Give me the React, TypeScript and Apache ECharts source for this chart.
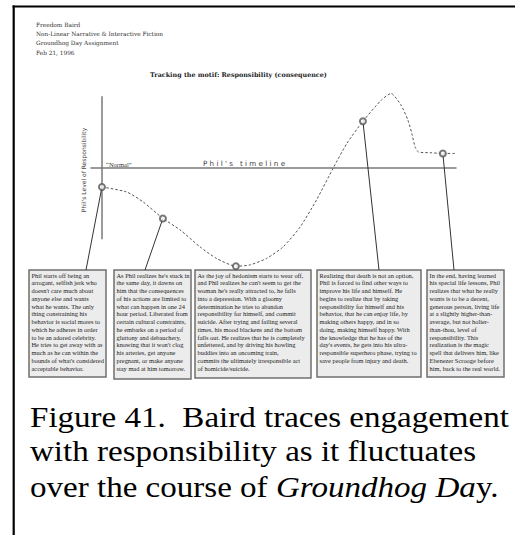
import React, { useEffect, useRef } from "react";
import * as echarts from "echarts";

// ---- texts ----
const headerLines = [
  "Freedom Baird",
  "Non-Linear Narrative & Interactive Fiction",
  "Groundhog Day Assignment",
  "Feb 21, 1996",
];
const chartTitle = "Tracking the motif: Responsibility (consequence)";
const yAxisTitle = "Phil's Level of Responsibility";
const timelineLabel = "P h i l ' s   t i m e l i n e";
const normalLabel = "\u201CNormal\u201D";

// ---- data: story time (x) vs. level of responsibility (y, 0 = "Normal") ----
const curveX = [0, 6.8, 11.3, 16.7, 21.4, 26.9, 31.4, 36.7, 40.6, 45.1, 49.6, 54.3, 58.8, 63.3, 67.1, 71.5, 76.6, 79.2, 81.9, 83.8, 84.9, 85.8, 86.7, 89.9, 93.4, 97];
const curveY = [-2.7, -3.4, -4.8, -7.1, -8.7, -11.1, -12.7, -13.8, -13.6, -12.7, -11.1, -8.3, -4.5, -0.1, 3.4, 6.5, 9.5, 10.4, 8.8, 6.7, 4.8, 2.9, 2.2, 2.1, 2.0, 2.0];
const milestoneX = [0, 16.7, 36.7, 71.5, 93.4];
const milestoneY = [-2.7, -7.1, -13.8, 6.5, 2.0];

const boxTexts: string[][] = [
  [
    "Phil starts off being an",
    "arrogant, selfish jerk who",
    "doesn't care much about",
    "anyone else and wants",
    "what he wants. The only",
    "thing constraining his",
    "behavior is social mores to",
    "which he adheres in order",
    "to be an adored celebrity.",
    "He tries to get away with as",
    "much as he can within the",
    "bounds of what's considered",
    "acceptable behavior.",
  ],
  [
    "As Phil realizes he's stuck in",
    "the same day, it dawns on",
    "him that the consequences",
    "of his actions are limited to",
    "what can happen in one 24",
    "hour period. Liberated from",
    "certain cultural constraints,",
    "he embarks on a period of",
    "gluttony and debauchery,",
    "knowing that it won't clog",
    "his arteries, get anyone",
    "pregnant, or make anyone",
    "stay mad at him tomorrow.",
  ],
  [
    "As the joy of hedonism starts to wear off,",
    "and Phil realizes he can't seem to get the",
    "woman he's really attracted to, he falls",
    "into a depression. With a gloomy",
    "determination he tries to abandon",
    "responsibility for himself, and commit",
    "suicide. After trying and failing several",
    "times, his mood blackens and the bottom",
    "falls out. He realizes that he is completely",
    "unfettered, and by driving his howling",
    "buddies into an oncoming train,",
    "commits the ultimately irresponsible act",
    "of homicide/suicide.",
  ],
  [
    "Realizing that death is not an option,",
    "Phil is forced to find other ways to",
    "improve his life and himself. He",
    "begins to realize that by taking",
    "responsibility for himself and his",
    "behavior, that he can enjoy life, by",
    "making others happy, and in so",
    "doing, making himself happy. With",
    "the knowledge that he has of the",
    "day's events, he gets into his ultra-",
    "responsible superhero phase, trying to",
    "save people from injury and death.",
  ],
  [
    "In the end, having learned",
    "his special life lessons, Phil",
    "realizes that what he really",
    "wants is to be a decent,",
    "generous person, living life",
    "at a slightly higher-than-",
    "average, but not holier-",
    "than-thou, level of",
    "responsibility. This",
    "realization is the magic",
    "spell that delivers him, like",
    "Ebenezer Scrooge before",
    "him, back to the real world.",
  ],
];

const captionLines = [
  "Figure 41.  Baird traces engagement",
  "with responsibility as it fluctuates",
  "over the course of {i|Groundhog Da}y.",
];

// ---- layout ----
const boxLayout = [
  { x: 29, y: 270, w: 77, h: 107, ax: 86 },
  { x: 114, y: 270, w: 77, h: 109, ax: 145 },
  { x: 195, y: 270, w: 116, h: 108, ax: -1 },
  { x: 317, y: 270, w: 104, h: 107, ax: 379 },
  { x: 427, y: 270, w: 77, h: 107, ax: 454 },
];

export default function App() {
  const ref = useRef<HTMLDivElement>(null);
  useEffect(() => {
    if (!ref.current) return;
    const chart = echarts.init(ref.current, undefined, { renderer: "svg" });

    const graphics: any[] = [];
    // frame
    graphics.push({ type: "line", z: 1, shape: { x1: 13.7, y1: 5.5, x2: 13.7, y2: 535 }, style: { stroke: "#000", lineWidth: 2.2 } });
    graphics.push({ type: "line", z: 1, shape: { x1: 12.6, y1: 6.5, x2: 515, y2: 6.5 }, style: { stroke: "#000", lineWidth: 2 } });
    // header
    headerLines.forEach((t, i) => {
      graphics.push({
        type: "text", z: 1, x: 36, y: 25 + i * 9.2,
        style: { text: t, fontSize: 5.8, fontFamily: "DejaVu Serif", fill: "#333", align: "left", verticalAlign: "middle" },
      });
    });
    graphics.push({
      type: "text", z: 1, x: 150, y: 75,
      style: { text: chartTitle, fontSize: 6.4, fontWeight: "bold", fontFamily: "DejaVu Serif", fill: "#222", align: "left", verticalAlign: "middle" },
    });
    graphics.push({
      type: "text", z: 1, x: 83, y: 170, rotation: Math.PI / 2,
      style: { text: yAxisTitle, fontSize: 6, fontFamily: "DejaVu Sans", fill: "#444", align: "center", verticalAlign: "middle" },
    });
    graphics.push({
      type: "text", z: 1, x: 203, y: 163,
      style: { text: timelineLabel, fontSize: 7.2, fontFamily: "DejaVu Sans", fill: "#444", align: "left", verticalAlign: "middle" },
    });
    graphics.push({
      type: "text", z: 1, x: 106, y: 164,
      style: { text: normalLabel, fontSize: 6.5, fontFamily: "Liberation Serif", fill: "#333", align: "left", verticalAlign: "middle" },
    });
    // boxes
    boxLayout.forEach((b, i) => {
      graphics.push({
        type: "rect", z: 1,
        shape: { x: b.x, y: b.y, width: b.w, height: b.h },
        style: { fill: "#ececec", stroke: "#6f6f6f", lineWidth: 1.5 },
      });
      graphics.push({
        type: "text", z: 2, x: b.x + 2.5, y: b.y + 1.3,
        style: {
          text: boxTexts[i].join("\n"), fontSize: 6.4, lineHeight: 7.75,
          fontFamily: "Liberation Serif", fill: "#222", align: "left", verticalAlign: "top",
        },
      });
    });
    // caption
    const capBase = [417, 451, 487];
    captionLines.forEach((t, i) => {
      const st: any = {
        text: t, fontSize: 29, fontFamily: "Liberation Serif", fill: "#000",
        align: "left", verticalAlign: "middle",
      };
      if (t.indexOf("{") >= 0) {
        st.rich = { i: { fontSize: 29, fontFamily: "Liberation Serif", fontStyle: "italic", fill: "#000" } };
      }
      graphics.push({ type: "text", z: 1, x: 30, y: capBase[i], scaleX: 1.14, style: st });
    });

    const connectors: any[] = [];
    milestoneX.forEach((mx, i) => {
      const b = boxLayout[i];
      if (b.ax < 0) return;
      connectors.push([{ coord: [mx, milestoneY[i]] }, { x: b.ax, y: b.y }]);
    });

    chart.setOption({
      animation: false,
      backgroundColor: "#fff",
      grid: { left: 91, top: 82, width: 365, height: 200 },
      xAxis: {
        type: "value", min: -3, max: 97,
        axisLine: { show: true, onZero: true, lineStyle: { color: "#7a7a7a", width: 1.5 } },
        axisTick: { show: false }, axisLabel: { show: false }, splitLine: { show: false },
      },
      yAxis: {
        type: "value", min: -16, max: 12,
        axisLine: { show: false }, axisTick: { show: false }, axisLabel: { show: false }, splitLine: { show: false },
      },
      series: [
        {
          type: "line", z: 5,
          data: curveX.map((x, i) => [x, curveY[i]]),
          smooth: 0.2, showSymbol: false, silent: true,
          lineStyle: { color: "#555", width: 1, type: [2.5, 2] },
          markLine: {
            silent: true, symbol: "none", label: { show: false },
            lineStyle: { color: "#7a7a7a", width: 1.5, type: "solid" },
            data: [[{ coord: [0, 10] }, { coord: [0, -10] }]],
          },
        },
        {
          type: "scatter", z: 6,
          data: milestoneX.map((x, i) => [x, milestoneY[i]]),
          symbol: "emptyCircle", symbolSize: 6, silent: true,
          itemStyle: { color: "#555", borderWidth: 1 },
          markLine: {
            silent: true, symbol: "none", label: { show: false },
            lineStyle: { color: "#333", width: 1, type: "solid" },
            data: connectors,
          },
        },
      ],
      graphic: graphics,
    });
    return () => chart.dispose();
  }, []);
  return <div ref={ref} style={{ position: "absolute", left: 0, top: 0, width: 515, height: 535 }} />;
}
